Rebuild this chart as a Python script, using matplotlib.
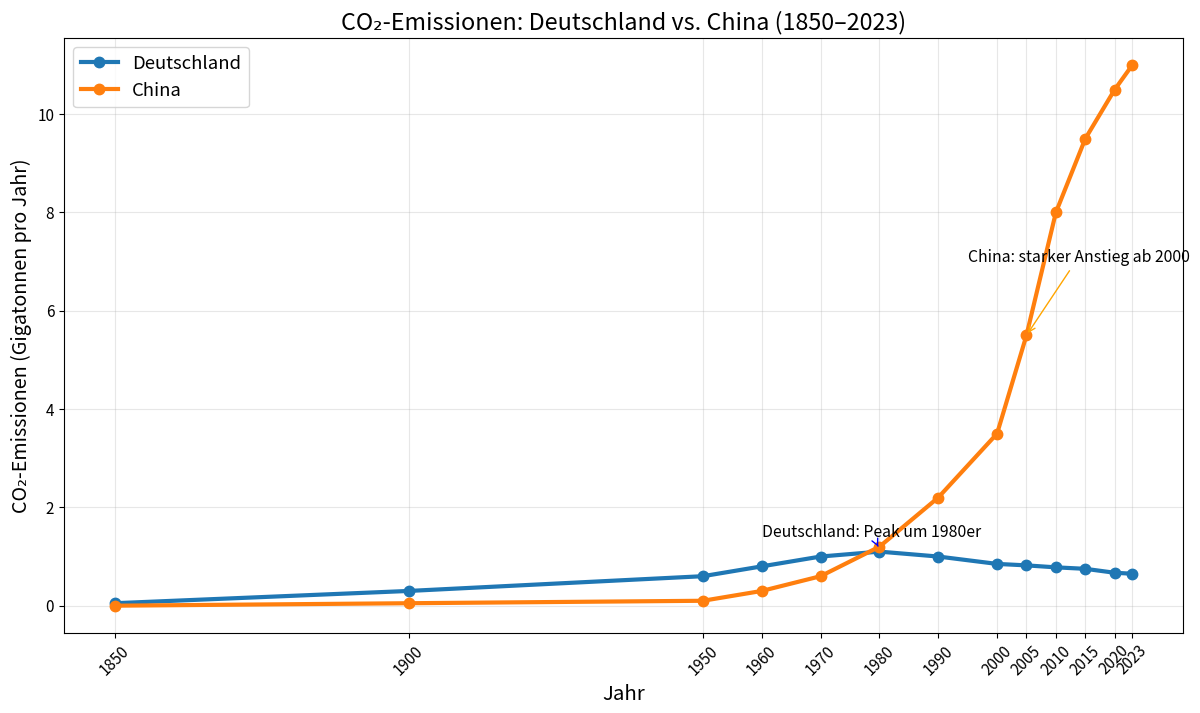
import matplotlib
matplotlib.use("Agg")
import matplotlib.pyplot as plt

plt.rcParams["font.family"] = ["Noto Sans CJK JP", "DejaVu Sans"]

years = [1850, 1900, 1950, 1960, 1970, 1980, 1990, 2000, 2005, 2010, 2015, 2020, 2023]
germany = [0.05, 0.3, 0.6, 0.8, 1.0, 1.1, 1.0, 0.85, 0.82, 0.78, 0.75, 0.67, 0.65]
china = [0.0, 0.05, 0.1, 0.3, 0.6, 1.2, 2.2, 3.5, 5.5, 8.0, 9.5, 10.5, 11.0]

fig, ax = plt.subplots(figsize=(12, 7.13), dpi=100)
fig.subplots_adjust(left=0.0533, right=0.986, top=0.9467, bottom=0.1126)

ax.plot(years, germany, marker="o", linewidth=3, markersize=7.5, color="#1f77b4", label="Deutschland")
ax.plot(years, china, marker="o", linewidth=3, markersize=7.5, color="#ff7f0e", label="China")

ax.annotate("Deutschland: Peak um 1980er", xy=(1980, 1.15), xytext=(1960, 1.4),
            fontsize=11.4, arrowprops=dict(arrowstyle="->", color="blue"))
ax.annotate("China: starker Anstieg ab 2000", xy=(2005, 5.5), xytext=(1995, 7.0),
            fontsize=11.4, arrowprops=dict(arrowstyle="->", color="orange"))

ax.set_title("CO\u2082-Emissionen: Deutschland vs. China (1850\u20132023)", fontsize=16.8)
ax.set_xlabel("Jahr", fontsize=14.7)
ax.set_ylabel("CO\u2082-Emissionen (Gigatonnen pro Jahr)", fontsize=14.2)
ax.set_xticks(years)
ax.set_xticklabels([str(y) for y in years], rotation=45)
ax.tick_params(labelsize=11)
ax.grid(True, alpha=0.3)
ax.legend(fontsize=13.3, loc="upper left")

fig.savefig("out.png", dpi=100)
